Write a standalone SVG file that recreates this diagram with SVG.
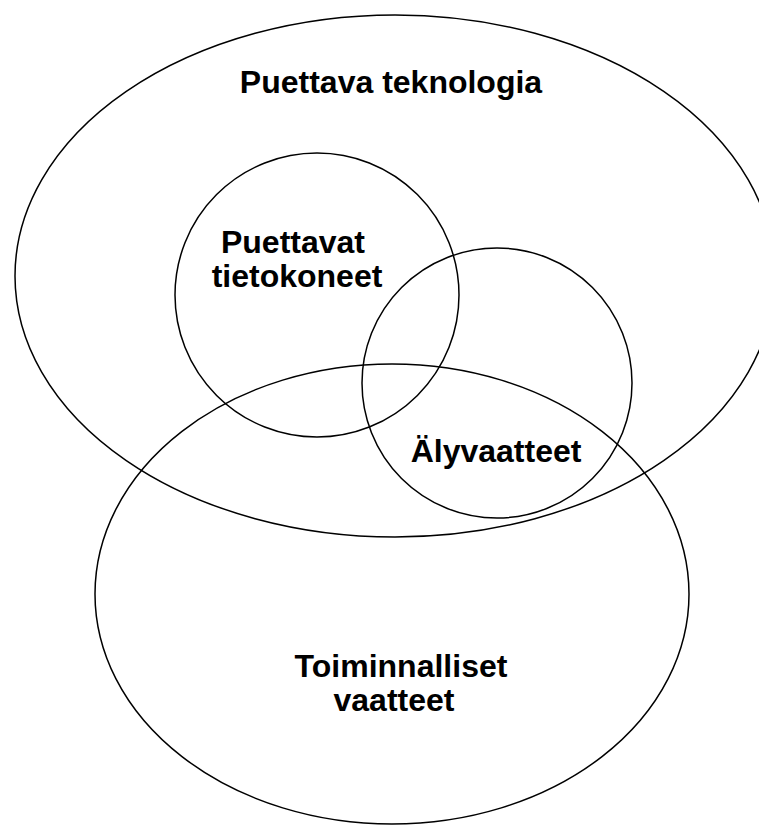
<svg xmlns="http://www.w3.org/2000/svg" width="759" height="825" viewBox="0 0 759 825">
<style>
.s{fill:none;stroke:#000;stroke-width:1.5}
.t{font-family:"Liberation Sans",Arial,sans-serif;font-weight:bold;font-size:32px;fill:#000;text-anchor:middle}
</style>
<rect width="759" height="825" fill="#fff"/>
<g id="puettava-teknologia">
<ellipse class="s" cx="395" cy="276" rx="380" ry="261"/>
<text class="t" x="391" y="93">Puettava teknologia</text>
</g>
<g id="puettavat-tietokoneet">
<circle class="s" cx="317" cy="295" r="142"/>
<text class="t" x="293" y="253">Puettavat</text>
<text class="t" x="297" y="287">tietokoneet</text>
</g>
<g id="alyvaatteet">
<circle class="s" cx="497" cy="383" r="135"/>
<text class="t" x="496" y="462">Älyvaatteet</text>
</g>
<g id="toiminnalliset-vaatteet">
<ellipse class="s" cx="392" cy="594" rx="297" ry="230"/>
<text class="t" x="401" y="677">Toiminnalliset</text>
<text class="t" x="394" y="711">vaatteet</text>
</g>
<g id="connectors"></g>
</svg>
